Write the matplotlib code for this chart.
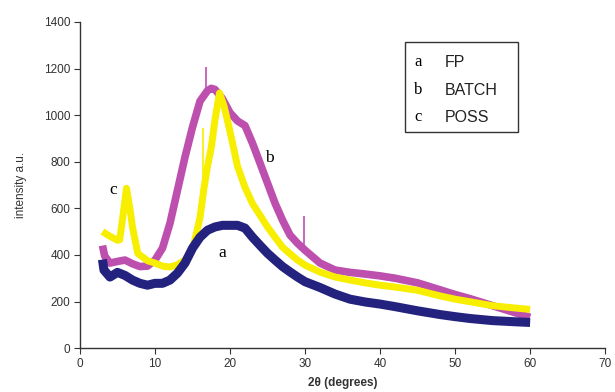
import matplotlib
matplotlib.use("Agg")
import matplotlib.pyplot as plt
from matplotlib.patches import Rectangle

# --- data (2theta in degrees, intensity a.u.) ---
fp_x = [3.0, 3.2, 4, 5, 6, 7, 8, 9, 10, 11, 12, 13, 14, 15, 16, 17, 18, 19, 20,
        21, 22, 23, 24, 25, 26, 27, 28, 29, 30, 32, 34, 36, 38, 40, 42, 45, 48,
        50, 52, 55, 58, 60]
fp_y = [380, 335, 305, 325, 312, 292, 278, 270, 278, 278, 292, 322, 365, 429,
        476, 506, 520, 527, 527, 527, 515, 476, 441, 407, 378, 350, 327, 305,
        285, 260, 232, 210, 198, 189, 178, 160, 144, 135, 127, 118, 113, 110]

batch_x = [3.0, 3.3, 4, 5, 6, 7, 8, 9, 10, 11, 12, 13, 14, 15, 16, 17, 17.5, 18,
           19, 20, 21, 22, 23, 24, 25, 26, 27, 28, 29, 30, 32, 34, 36, 38, 40,
           42, 45, 48, 50, 52, 55, 58, 60]
batch_y = [440, 395, 365, 372, 378, 362, 350, 352, 378, 429, 536, 678, 820, 948,
           1060, 1105, 1115, 1110, 1070, 1010, 975, 955, 879, 794, 708, 622, 549,
           485, 450, 420, 365, 335, 325, 318, 310, 300, 280, 250, 230, 212, 182,
           152, 132]

poss_x = [3.0, 4, 5, 5.3, 5.7, 6.2, 6.7, 7, 7.7, 9, 10, 11, 12, 13, 14, 15, 16,
          16.5, 17, 17.5, 18, 18.6, 19.2, 20, 21, 22, 23, 24, 25, 26, 27, 28, 29,
          30, 32, 34, 36, 38, 40, 42, 45, 48, 50, 52, 55, 58, 60]
poss_y = [500, 480, 463, 465, 560, 686, 590, 520, 407, 375, 365, 352, 348, 358,
          378, 420, 560, 680, 780, 860, 980, 1095, 1040, 930, 780, 690, 620, 570,
          520, 476, 433, 405, 378, 356, 326, 305, 292, 280, 270, 262, 248, 224,
          210, 199, 182, 172, 166]

# narrow spikes (x, from, to)
batch_spike_x = [16.8, 29.8]
batch_spike_lo = [1100, 420]
batch_spike_hi = [1206, 565]
poss_spike_x = [16.4]
poss_spike_lo = [600]
poss_spike_hi = [945]

x_ticks = [0, 10, 20, 30, 40, 50, 60, 70]
y_ticks = [0, 200, 400, 600, 800, 1000, 1200, 1400]

legend_letters = ["a", "b", "c"]
legend_names = ["FP", "BATCH", "POSS"]

c_fp = "#23237f"
c_batch = "#bd4fae"
c_poss = "#f7ee00"

plt.rcParams['font.family'] = ['Liberation Sans', 'DejaVu Sans']

fig = plt.figure(figsize=(6.15, 3.92), dpi=100)
ax = fig.add_axes([0.130, 0.112, 0.854, 0.832])

ax.plot(batch_x, batch_y, color=c_batch, lw=5.5, solid_joinstyle='round',
        solid_capstyle='butt', zorder=2)
ax.vlines(batch_spike_x, batch_spike_lo, batch_spike_hi, color=c_batch, lw=1.2, zorder=2)
ax.plot(poss_x, poss_y, color=c_poss, lw=5.0, solid_joinstyle='round',
        solid_capstyle='butt', zorder=3)
ax.vlines(poss_spike_x, poss_spike_lo, poss_spike_hi, color=c_poss, lw=1.2, zorder=3)
ax.plot(fp_x, fp_y, color=c_fp, lw=6.5, solid_joinstyle='round',
        solid_capstyle='butt', zorder=4)

ax.set_xlim(0, 70)
ax.set_ylim(0, 1400)
ax.set_xticks(x_ticks)
ax.set_yticks(y_ticks)
ax.tick_params(axis='both', direction='out', length=4, width=0.8,
               labelsize=8.5, colors='#333333', pad=3)
for s in ['top', 'right']:
    ax.spines[s].set_visible(False)
for s in ['left', 'bottom']:
    ax.spines[s].set_color('#333333')
    ax.spines[s].set_linewidth(1.0)

ax.set_ylabel("intensity a.u.", fontsize=8.5, color='#333333', labelpad=12)
ax.set_xlabel("2θ (degrees)", fontsize=8.5, fontweight='bold', color='#333333', labelpad=5)

# curve labels
serif = ['Liberation Serif', 'DejaVu Serif']
ax.text(4.4, 678, "c", fontsize=12.5, family=serif, ha='center', va='center')
ax.text(25.3, 815, "b", fontsize=12.5, family=serif, ha='center', va='center')
ax.text(18.9, 408, "a", fontsize=12.5, family=serif, ha='center', va='center')

# legend box
ax.add_patch(Rectangle((43.3, 927), 15.1, 386, fill=False, edgecolor='#333333',
                       lw=1.0, zorder=5, clip_on=False))
rows_y = [1227, 1107, 991]
for yy, let, nm in zip(rows_y, legend_letters, legend_names):
    ax.text(45.1, yy, let, fontsize=12, family=serif, ha='center', va='center')
    ax.text(48.6, yy, nm, fontsize=11.5, ha='left', va='center', color='#222222')

fig.savefig("out.png", dpi=100)
